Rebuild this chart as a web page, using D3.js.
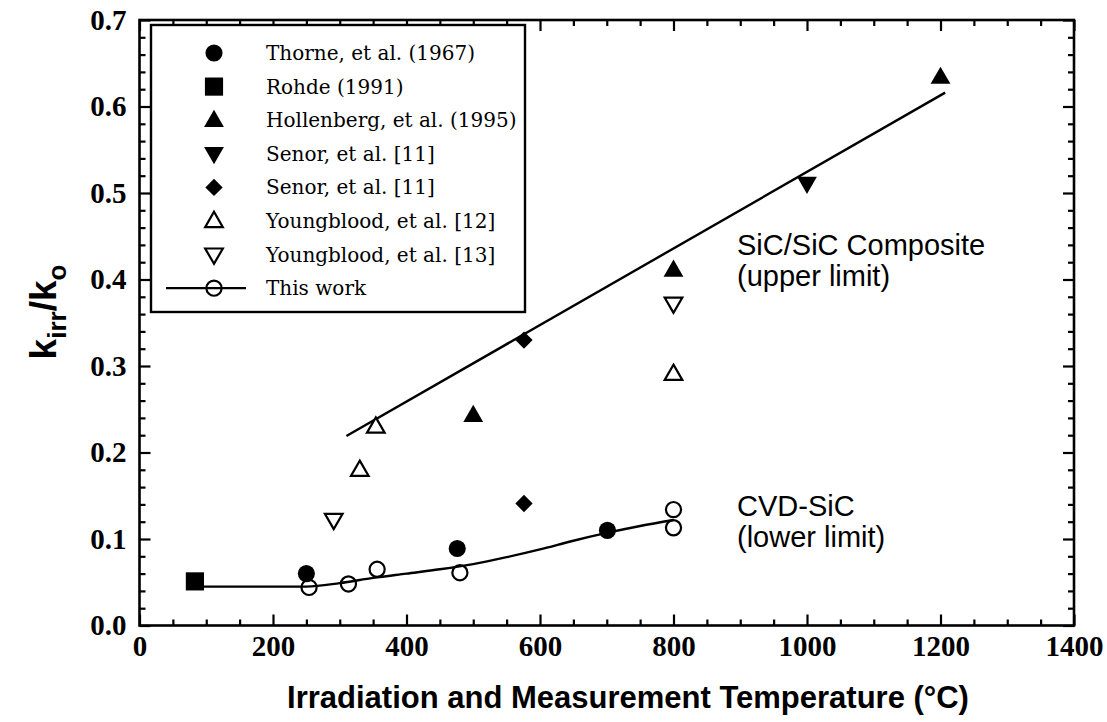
<!DOCTYPE html>
<html>
<head>
<meta charset="utf-8">
<script src="https://cdn.jsdelivr.net/npm/d3@7"></script>
<style>
  html, body { margin: 0; padding: 0; background: #fff; }
  svg { display: block; }
</style>
</head>
<body>
<svg id="chart" width="1107" height="722"></svg>
<script>
// ---------------- data ----------------
const xTicks = [0, 200, 400, 600, 800, 1000, 1200, 1400];
const yTicks = [0.0, 0.1, 0.2, 0.3, 0.4, 0.5, 0.6, 0.7];

const thorneX = [250, 476, 701];
const thorneY = [0.060, 0.089, 0.110];
const rohdeX = [83];
const rohdeY = [0.051];
const hollenbergX = [500, 800, 1200];
const hollenbergY = [0.243, 0.411, 0.634];
const senorTriX = [1000];
const senorTriY = [0.511];
const senorDiaX = [576, 576];
const senorDiaY = [0.330, 0.141];
const yb12X = [330, 354, 800];
const yb12Y = [0.180, 0.230, 0.291];
const yb13X = [291, 800];
const yb13Y = [0.122, 0.372];
const thisWorkX = [254, 313, 356, 480, 800, 800];
const thisWorkY = [0.044, 0.048, 0.065, 0.061, 0.134, 0.113];

const lowerFitX = [83, 250, 300, 350, 400, 450, 500, 550, 600, 650, 700, 750, 800];
const lowerFitY = [0.045, 0.045, 0.049, 0.055, 0.060, 0.065, 0.071, 0.079, 0.088, 0.098, 0.107, 0.115, 0.122];
const upperFitX = [310, 1207];
const upperFitY = [0.219, 0.616];

const legendLabels = [
  "Thorne, et al. (1967)",
  "Rohde (1991)",
  "Hollenberg, et al. (1995)",
  "Senor, et al. [11]",
  "Senor, et al. [11]",
  "Youngblood, et al. [12]",
  "Youngblood, et al. [13]",
  "This work"
];

// ---------------- setup ----------------
const svg = d3.select("#chart");
const L = 139.5, R = 1074, T = 20, B = 625.5;
const x = d3.scaleLinear().domain([0, 1400]).range([L, R]);
const y = d3.scaleLinear().domain([0, 0.7]).range([B, T]);

const serif = "'DejaVu Serif', 'Liberation Serif', serif";
const tickFont = "'Liberation Serif', serif";
const sans = "'Liberation Sans', Arial, sans-serif";

// ---------------- axes (inward ticks on all sides) ----------------
const minorX = d3.range(0, 1401, 50).filter(v => v % 200 !== 0);
const minorY = d3.range(0, 36).map(i => +(i * 0.02).toFixed(2)).filter(v => Math.round(v * 100) % 10 !== 0 && v < 0.7);

function styleAxis(g) {
  g.selectAll("path").remove();
  g.selectAll("line").attr("stroke", "#000").attr("stroke-width", 2.2);
}

// bottom
svg.append("g").attr("transform", `translate(0,${B})`)
  .call(d3.axisBottom(x).tickValues(xTicks).tickSize(-11).tickPadding(10).tickFormat(d3.format("d")))
  .call(styleAxis)
  .call(g => g.selectAll("text").attr("font-family", tickFont).attr("font-weight", "bold")
        .attr("font-size", 29).attr("fill", "#000"));
svg.append("g").attr("transform", `translate(0,${B})`)
  .call(d3.axisBottom(x).tickValues(minorX).tickSize(-6).tickFormat(""))
  .call(styleAxis);
// top
svg.append("g").attr("transform", `translate(0,${T})`)
  .call(d3.axisTop(x).tickValues(xTicks).tickSize(-11).tickFormat(""))
  .call(styleAxis);
svg.append("g").attr("transform", `translate(0,${T})`)
  .call(d3.axisTop(x).tickValues(minorX).tickSize(-6).tickFormat(""))
  .call(styleAxis);
// left
svg.append("g").attr("transform", `translate(${L},0)`)
  .call(d3.axisLeft(y).tickValues(yTicks).tickSize(-11).tickPadding(13).tickFormat(d3.format(".1f")))
  .call(styleAxis)
  .call(g => g.selectAll("text").attr("font-family", tickFont).attr("font-weight", "bold")
        .attr("font-size", 29).attr("fill", "#000"));
svg.append("g").attr("transform", `translate(${L},0)`)
  .call(d3.axisLeft(y).tickValues(minorY).tickSize(-6).tickFormat(""))
  .call(styleAxis);
// right
svg.append("g").attr("transform", `translate(${R},0)`)
  .call(d3.axisRight(y).tickValues(yTicks).tickSize(-11).tickFormat(""))
  .call(styleAxis);
svg.append("g").attr("transform", `translate(${R},0)`)
  .call(d3.axisRight(y).tickValues(minorY).tickSize(-6).tickFormat(""))
  .call(styleAxis);

// frame
svg.append("rect").attr("x", L).attr("y", T).attr("width", R - L).attr("height", B - T)
  .attr("fill", "none").attr("stroke", "#000").attr("stroke-width", 2.6);

// ---------------- axis titles ----------------
svg.append("text")
  .attr("x", 628).attr("y", 708)
  .attr("text-anchor", "middle")
  .attr("font-family", sans).attr("font-weight", "bold").attr("font-size", 31)
  .text("Irradiation and Measurement Temperature (°C)");

const yt = svg.append("text")
  .attr("transform", `translate(56,312) rotate(-90)`)
  .attr("text-anchor", "middle")
  .attr("font-family", sans).attr("font-weight", "bold").attr("font-size", 37);
yt.append("tspan").text("k");
yt.append("tspan").attr("font-size", 26).attr("dy", 10).text("irr");
yt.append("tspan").attr("dy", -10).text("/k");
yt.append("tspan").attr("font-size", 26).attr("dy", 10).text("o");

// ---------------- fit lines ----------------
const lineGen = d3.line().x(d => x(d[0])).y(d => y(d[1]));
svg.append("path")
  .datum(upperFitX.map((v, i) => [v, upperFitY[i]]))
  .attr("d", lineGen)
  .attr("fill", "none").attr("stroke", "#000").attr("stroke-width", 2.4);
svg.append("path")
  .datum(lowerFitX.map((v, i) => [v, lowerFitY[i]]))
  .attr("d", lineGen.curve(d3.curveMonotoneX))
  .attr("fill", "none").attr("stroke", "#000").attr("stroke-width", 2.4);

// ---------------- markers ----------------
const sym = {
  circle: d3.symbol().type(d3.symbolCircle).size(230),
  square: d3.symbol().type(d3.symbolSquare).size(330),
  tri: d3.symbol().type(d3.symbolTriangle).size(170),
  diamond: d3.symbol().type(d3.symbolSquare).size(150),
  ocircle: d3.symbol().type(d3.symbolCircle).size(180),
  otri: d3.symbol().type(d3.symbolTriangle).size(135)
};

function drawMarker(g, type, cx, cy) {
  const p = g.append("path").attr("transform", `translate(${cx},${cy})`);
  if (type === "circle") p.attr("d", sym.circle()).attr("fill", "#000");
  if (type === "square") p.attr("d", sym.square()).attr("fill", "#000");
  if (type === "triUp") p.attr("d", sym.tri()).attr("fill", "#000").attr("transform", `translate(${cx},${cy + 1})`);
  if (type === "triDown") p.attr("d", sym.tri()).attr("fill", "#000").attr("transform", `translate(${cx},${cy - 1}) rotate(180)`);
  if (type === "diamond") p.attr("d", sym.diamond()).attr("fill", "#000").attr("transform", `translate(${cx},${cy}) rotate(45)`);
  if (type === "oTriUp") p.attr("d", sym.otri()).attr("fill", "#fff").attr("stroke", "#000").attr("stroke-width", 2.2).attr("transform", `translate(${cx},${cy + 1})`);
  if (type === "oTriDown") p.attr("d", sym.otri()).attr("fill", "#fff").attr("stroke", "#000").attr("stroke-width", 2.2).attr("transform", `translate(${cx},${cy - 1}) rotate(180)`);
  if (type === "oCircle") p.attr("d", sym.ocircle()).attr("fill", "none").attr("stroke", "#000").attr("stroke-width", 2.2);
}

const series = [
  { xs: thorneX, ys: thorneY, type: "circle" },
  { xs: rohdeX, ys: rohdeY, type: "square" },
  { xs: hollenbergX, ys: hollenbergY, type: "triUp" },
  { xs: senorTriX, ys: senorTriY, type: "triDown" },
  { xs: senorDiaX, ys: senorDiaY, type: "diamond" },
  { xs: yb12X, ys: yb12Y, type: "oTriUp" },
  { xs: yb13X, ys: yb13Y, type: "oTriDown" },
  { xs: thisWorkX, ys: thisWorkY, type: "oCircle" }
];

const markG = svg.append("g");
series.forEach(s => s.xs.forEach((v, i) => drawMarker(markG, s.type, x(v), y(s.ys[i]))));

// ---------------- annotations ----------------
const ann = svg.append("g").attr("font-family", sans).attr("font-size", 29).attr("fill", "#000");
ann.append("text").attr("x", 737).attr("y", 255).text("SiC/SiC Composite");
ann.append("text").attr("x", 737).attr("y", 286).text("(upper limit)");
ann.append("text").attr("x", 737).attr("y", 516).text("CVD-SiC");
ann.append("text").attr("x", 737).attr("y", 547).text("(lower limit)");

// ---------------- legend ----------------
const lg = svg.append("g");
lg.append("rect").attr("x", 151).attr("y", 25).attr("width", 374).attr("height", 287)
  .attr("fill", "#fff").attr("stroke", "#000").attr("stroke-width", 2.4);
const rowY0 = 53, rowDY = 33.6, symX = 214, textX = 266;
legendLabels.forEach((lab, i) => {
  const cy = rowY0 + i * rowDY;
  if (i === 7) {
    lg.append("line").attr("x1", 166).attr("x2", 246).attr("y1", cy).attr("y2", cy)
      .attr("stroke", "#000").attr("stroke-width", 2.2);
  }
  drawMarker(lg, series[i].type, symX, cy);
  lg.append("text").attr("x", textX).attr("y", cy + 7)
    .attr("font-family", serif).attr("font-size", 20).attr("fill", "#000").text(lab);
});
</script>
</body>
</html>
